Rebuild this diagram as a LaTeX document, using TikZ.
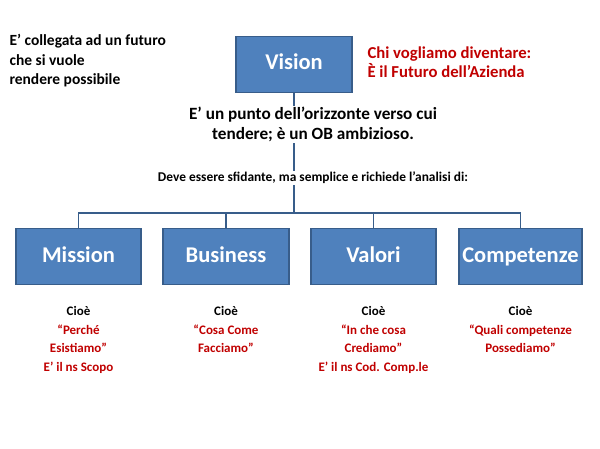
\documentclass[tikz,border=0pt]{standalone}
\usepackage{fontspec}
\setmainfont{Carlito}
\definecolor{boxblue}{HTML}{4F81BD}
\definecolor{boxedge}{HTML}{385D8A}
\definecolor{redt}{HTML}{C00000}
\begin{document}
\begin{tikzpicture}[x=1pt,y=-1pt,
  bx/.style={draw=boxedge,line width=1.5pt,fill=boxblue,text=white,font=\fontsize{22.5}{26}\selectfont\bfseries,minimum height=56pt,inner sep=0pt,text height=15pt,text depth=4pt},
  captxt/.style={align=center,font=\fontsize{13}{18.5}\selectfont\bfseries},
  ln/.style={draw=boxedge,line width=1.5pt}]
\useasboundingbox (0,0) rectangle (600,449);
\node[bx,minimum width=116pt] (vis) at (294,64.5) {Vision};
\node[bx,minimum width=125pt] (m) at (78.5,256.5) {Mission};
\node[bx,minimum width=126pt] (b) at (226,256.5) {Business};
\node[bx,minimum width=125pt] (v) at (373.5,256.5) {Valori};
\node[bx,minimum width=123pt] (c) at (520.5,256.5) {Competenze};
\coordinate (j) at (294,213);
\draw[ln] (vis.south) -- (j);
\draw[ln] (m.north) |- (c.north |- j) -- (c.north);
\draw[ln] (b.north) -- (b.north |- j);
\draw[ln] (v.north) -- (v.north |- j);
\node[anchor=north west,align=left,font=\fontsize{15.5}{19.5}\selectfont\bfseries] (t1) at (6,31) {E’ collegata ad un futuro\\che si vuole\\rendere possibile};
\node[anchor=north west,align=left,text=redt,font=\fontsize{16.7}{19}\selectfont\bfseries] (t2) at (364,43) {Chi vogliamo diventare:\\È il Futuro dell’Azienda};
\node[fill=white,inner sep=1pt,align=center,font=\fontsize{17.2}{20}\selectfont\bfseries] (t3) at (313,124.5) {E’ un punto dell’orizzonte verso cui\\tendere; è un OB ambizioso.};
\node[fill=white,inner sep=1pt,font=\fontsize{13.4}{15}\selectfont\bfseries] (t4) at (313,178) {Deve essere sfidante, ma semplice e richiede l’analisi di:};
\node[captxt,anchor=north] (cm) at (m.south |- 0,303) {Cioè\\\textcolor{redt}{“Perché}\\\textcolor{redt}{Esistiamo”}\\\textcolor{redt}{E’ il ns Scopo}};
\node[captxt,anchor=north] (cb) at (b.south |- 0,303) {Cioè\\\textcolor{redt}{“Cosa Come}\\\textcolor{redt}{Facciamo”}};
\node[captxt,anchor=north] (cv) at (v.south |- 0,303) {Cioè\\\textcolor{redt}{“In che cosa}\\\textcolor{redt}{Crediamo”}\\\textcolor{redt}{E’ il ns Cod. Comp.le}};
\node[captxt,anchor=north] (cc) at (c.south |- 0,303) {Cioè\\\textcolor{redt}{“Quali competenze}\\\textcolor{redt}{Possediamo”}};
\end{tikzpicture}
\end{document}
